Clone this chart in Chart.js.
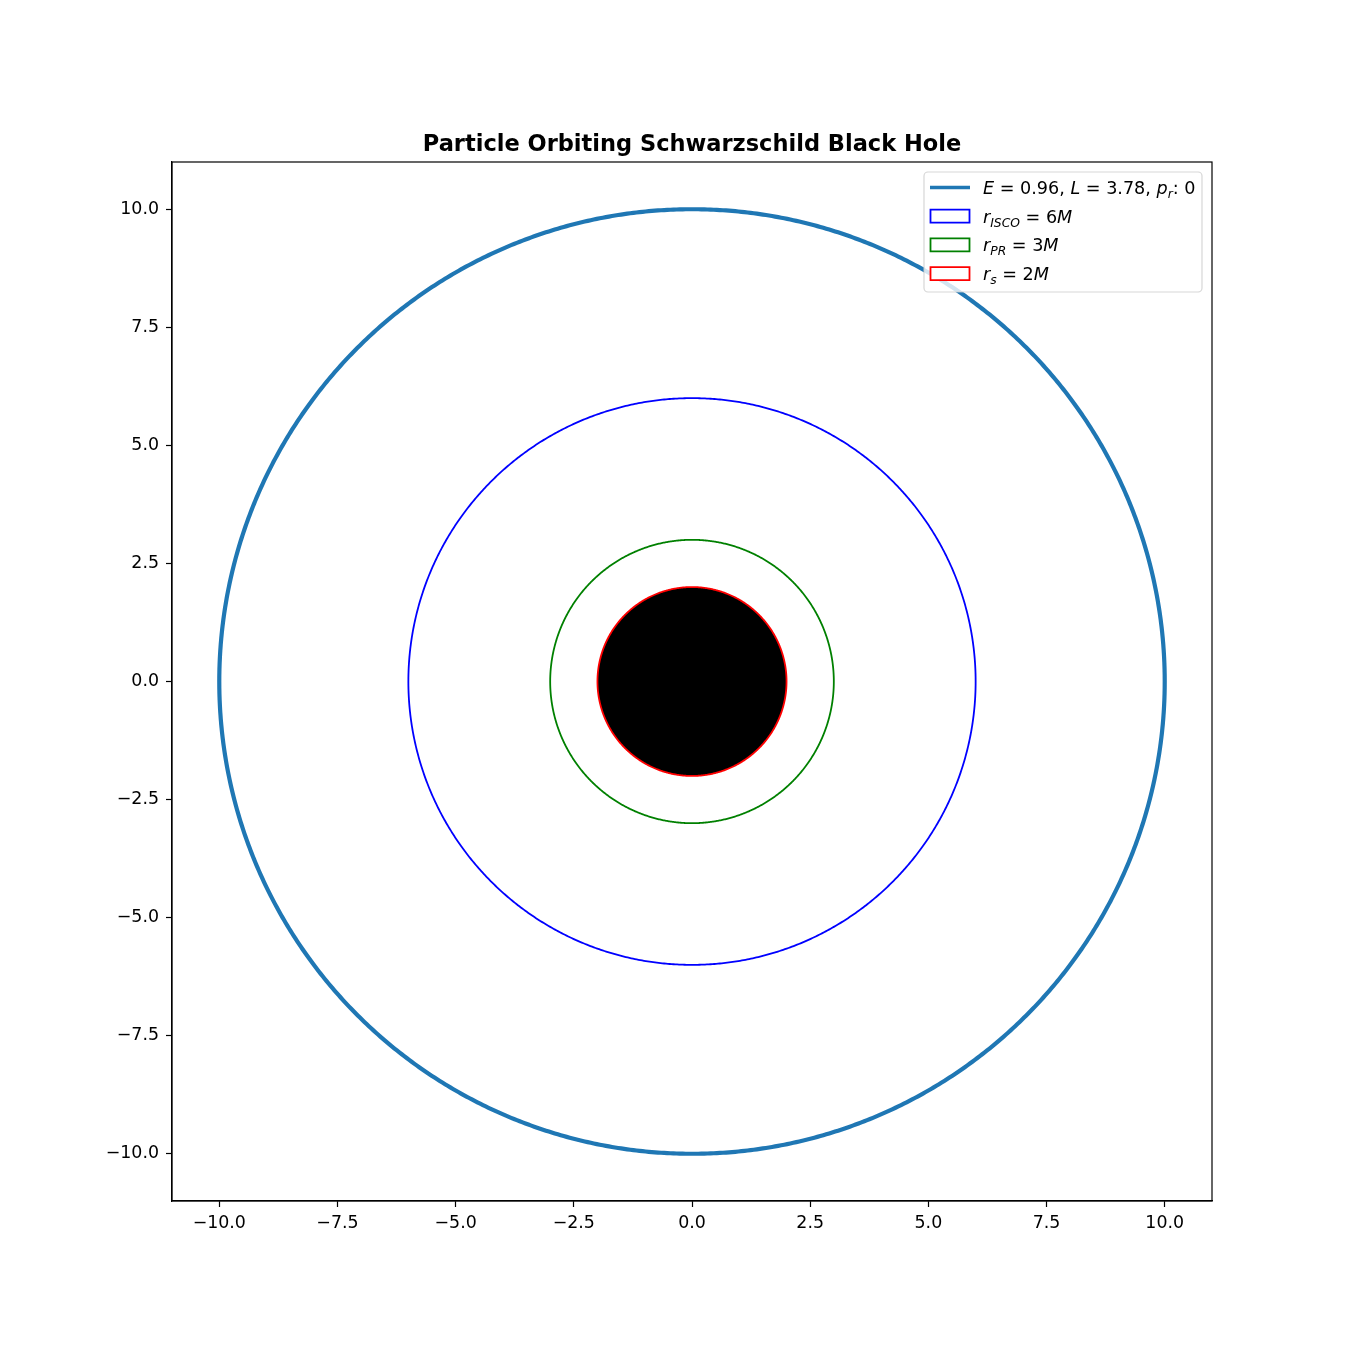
<!DOCTYPE html>
<html>
<head>
<meta charset="utf-8">
<script src="https://cdn.jsdelivr.net/npm/chart.js@4.4.1/dist/chart.umd.min.js"></script>
<style>
  html, body { margin: 0; padding: 0; background: #fff; }
</style>
</head>
<body>
<canvas id="myChart" width="1350" height="1350"></canvas>
<script>
// values
var titleText = 'Particle Orbiting Schwarzschild Black Hole';
var axisMin = -11;
var axisMax = 11;
var tickValues = [-10, -7.5, -5, -2.5, 0, 2.5, 5, 7.5, 10];
// orbit radius and the reference circles (in units of M)
var orbitRadius = 10;
var circleRadii = [6, 3, 2];
// legend labels, split in text runs (it = italic, sub = subscript)
var legendLabels = [
  [{t: 'E', it: true}, {t: ' = 0.96, '}, {t: 'L', it: true}, {t: ' = 3.78, '}, {t: 'p', it: true}, {t: 'r', it: true, sub: true}, {t: ': 0'}],
  [{t: 'r', it: true}, {t: 'ISCO', it: true, sub: true}, {t: ' = 6'}, {t: 'M', it: true}],
  [{t: 'r', it: true}, {t: 'PR', it: true, sub: true}, {t: ' = 3'}, {t: 'M', it: true}],
  [{t: 'r', it: true}, {t: 's', it: true, sub: true}, {t: ' = 2'}, {t: 'M', it: true}]
];

// points of a circle of radius r around the origin
function ring(r) {
  var pts = [];
  var n = 480;
  for (var i = 0; i <= n; i++) {
    var a = 2 * Math.PI * i / n;
    pts.push({x: r * Math.cos(a), y: r * Math.sin(a)});
  }
  return pts;
}

var FONT = '"DejaVu Sans", sans-serif';

var datasets = [{
  label: 'orbit',
  data: ring(orbitRadius),
  borderColor: '#1f77b4',
  borderWidth: 4.2,
  legendKind: 'line'
}, {
  label: 'isco',
  data: ring(circleRadii[0]),
  borderColor: '#0000ff',
  borderWidth: 1.8,
  legendKind: 'patch'
}, {
  label: 'pr',
  data: ring(circleRadii[1]),
  borderColor: '#008000',
  borderWidth: 1.8,
  legendKind: 'patch'
}, {
  label: 'rs',
  data: ring(circleRadii[2]),
  borderColor: '#ff0000',
  backgroundColor: '#000000',
  fill: 'shape',
  borderWidth: 1.8,
  legendKind: 'patch'
}];

datasets.forEach(function (d) {
  d.showLine = true;
  d.pointRadius = 0;
  d.pointHoverRadius = 0;
  d.tension = 0.01; // avoids the fast path that flattens the sides
  if (!d.fill) d.fill = false;
});

function fmtTick(v) {
  return Number(v).toFixed(1).replace('-', '\u2212');
}

function drawRuns(ctx, runs, x, y, size) {
  runs.forEach(function (s) {
    var fs = s.sub ? size * 0.7 : size;
    ctx.font = (s.it ? 'oblique ' : '') + fs + 'px ' + FONT;
    ctx.fillText(s.t, x, y + (s.sub ? size * 0.22 : 0));
    x += ctx.measureText(s.t).width;
  });
}

// title, axes box and the legend in the top right corner
var boxAndLegend = {
  id: 'boxAndLegend',
  afterDatasetsDraw: function (chart) {
    var ctx = chart.ctx;
    var a = chart.chartArea;
    ctx.save();
    ctx.strokeStyle = '#000';
    ctx.lineWidth = 1.2;
    ctx.strokeRect(a.left, a.top, a.right - a.left, a.bottom - a.top);

    ctx.fillStyle = '#000';
    ctx.font = 'bold 22.5px ' + FONT;
    ctx.textAlign = 'center';
    ctx.textBaseline = 'alphabetic';
    ctx.fillText(titleText, (a.left + a.right) / 2, 151);

    // legend frame
    var fx = 924, fy = 172, fw = 278, fh = 120, rad = 4;
    ctx.beginPath();
    ctx.roundRect(fx, fy, fw, fh, rad);
    ctx.fillStyle = 'rgba(255,255,255,0.8)';
    ctx.fill();
    ctx.strokeStyle = 'rgba(204,204,204,0.8)';
    ctx.lineWidth = 1.2;
    ctx.stroke();

    var rowY = 187.5, rowStep = 28.7;
    chart.data.datasets.forEach(function (d, i) {
      var cy = rowY + i * rowStep;
      ctx.strokeStyle = d.borderColor;
      if (d.legendKind === 'line') {
        ctx.lineWidth = 3.5;
        ctx.beginPath();
        ctx.moveTo(930, cy);
        ctx.lineTo(970, cy);
        ctx.stroke();
      } else {
        ctx.lineWidth = d.borderWidth;
        ctx.fillStyle = '#ffffff';
        ctx.beginPath();
        ctx.rect(930.5, cy - 6.5, 39, 13);
        ctx.fill();
        ctx.stroke();
      }
      ctx.fillStyle = '#000';
      ctx.textBaseline = 'alphabetic';
      ctx.textAlign = 'left';
      drawRuns(ctx, legendLabels[i], 983, cy + 6.5, 17.6);
    });
    ctx.restore();
  }
};

function axisOpts(isX) {
  return {
    type: 'linear',
    min: axisMin,
    max: axisMax,
    afterBuildTicks: function (s) {
      s.ticks = tickValues.map(function (v) { return {value: v}; });
    },
    afterFit: function (s) {
      if (isX) s.height = 149; else s.width = 172;
    },
    grid: {
      display: true,
      drawOnChartArea: false,
      drawTicks: true,
      tickLength: 6,
      tickColor: '#000',
      tickWidth: 1.2
    },
    border: { display: true, color: '#000', width: 1.2 },
    ticks: {
      color: '#000',
      font: { family: FONT, size: 17.4 },
      padding: isX ? 6 : 7,
      autoSkip: false,
      maxRotation: 0,
      callback: function (v) { return fmtTick(v); }
    }
  };
}

var config = {
  type: 'scatter',
  data: { datasets: datasets },
  options: {
    responsive: false,
    animation: false,
    devicePixelRatio: 1,
    layout: { padding: { left: 0, right: 138, top: 162, bottom: 0 } },
    scales: { x: axisOpts(true), y: axisOpts(false) },
    plugins: {
      legend: { display: false },
      tooltip: { enabled: false },
      title: { display: false }
    }
  },
  plugins: [boxAndLegend]
};

var myChart = new Chart(document.getElementById('myChart'), config);
</script>
</body>
</html>
